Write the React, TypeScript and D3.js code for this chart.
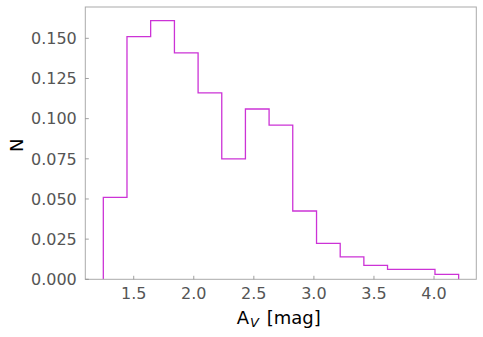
import React from 'react';
import * as d3 from 'd3';

// bin edges of the A_V histogram (15 bins) and their normalised counts
const binEdges = [1.247, 1.444, 1.641, 1.839, 2.036, 2.233, 2.430, 2.627, 2.824, 3.022, 3.219, 3.416, 3.613, 3.810, 4.008, 4.205];
const binValues = [0.051, 0.151, 0.161, 0.141, 0.116, 0.075, 0.106, 0.096, 0.0425, 0.0224, 0.0139, 0.0087, 0.0062, 0.0062, 0.0031];
const xTicks = [1.5, 2.0, 2.5, 3.0, 3.5, 4.0];
const yTicks = [0, 0.025, 0.05, 0.075, 0.1, 0.125, 0.15];

export default function App() {
    const width = 483;
    const height = 337;
    const margin = { top: 7, right: 6.7, bottom: 57.7, left: 85.3 };
    const innerW = width - margin.left - margin.right;
    const innerH = height - margin.top - margin.bottom;

    const xScale = d3.scaleLinear().domain([1.097, 4.352]).range([0, innerW]);
    const yScale = d3.scaleLinear().domain([0, 0.1695]).range([innerH, 0]);

    // step outline like matplotlib histtype='step'
    const pts: [number, number][] = [[binEdges[0], 0]];
    binValues.forEach((v, i) => {
        pts.push([binEdges[i], v]);
        pts.push([binEdges[i + 1], v]);
    });
    pts.push([binEdges[binEdges.length - 1], 0]);
    const line = d3.line<[number, number]>()
        .x(d => xScale(d[0]))
        .y(d => yScale(d[1]));

    const font = "'DejaVu Sans', sans-serif";

    return (
        <svg width={width} height={height} style={{ position: 'absolute', left: 0, top: 0 }}>
            <rect width={width} height={height} fill="#fff" />
            <g transform={`translate(${margin.left},${margin.top})`}>
                <path d={line(pts) ?? ''} fill="none" stroke="#cc33d6" strokeWidth={1.3} />

                {/* frame */}
                <rect x={0} y={0} width={innerW} height={innerH} fill="none" stroke="#aaaaaa" strokeWidth={1} />

                {/* y ticks */}
                {yTicks.map(t => (
                    <g key={t}>
                        <line x1={0} x2={3.5} y1={yScale(t)} y2={yScale(t)} stroke="#888" strokeWidth={0.8} />
                        <text x={-8.5} y={yScale(t)} dy="0.36em" textAnchor="end" fontFamily={font} fontSize={16} fill="#555">
                            {t.toFixed(3)}
                        </text>
                    </g>
                ))}

                {/* x ticks */}
                {xTicks.map(t => (
                    <g key={t}>
                        <line x1={xScale(t)} x2={xScale(t)} y1={innerH} y2={innerH - 3.5} stroke="#888" strokeWidth={0.8} />
                        <text x={xScale(t)} y={innerH + 20} textAnchor="middle" fontFamily={font} fontSize={16} fill="#555">
                            {t.toFixed(1)}
                        </text>
                    </g>
                ))}

                {/* axis labels */}
                <text x={236.7 - margin.left} y={innerH + 44.7} fontFamily={font} fontSize={18} fill="#000">
                    A<tspan fontSize={13} fontStyle="italic" dx={1} dy={3}>V</tspan><tspan dx={2} dy={-3}> [mag]</tspan>
                </text>
                <text transform={`translate(${-62},${innerH / 2 + 2}) rotate(-90)`} textAnchor="middle" fontFamily={font} fontSize={18} fill="#000">
                    N
                </text>
            </g>
        </svg>
    );
}
